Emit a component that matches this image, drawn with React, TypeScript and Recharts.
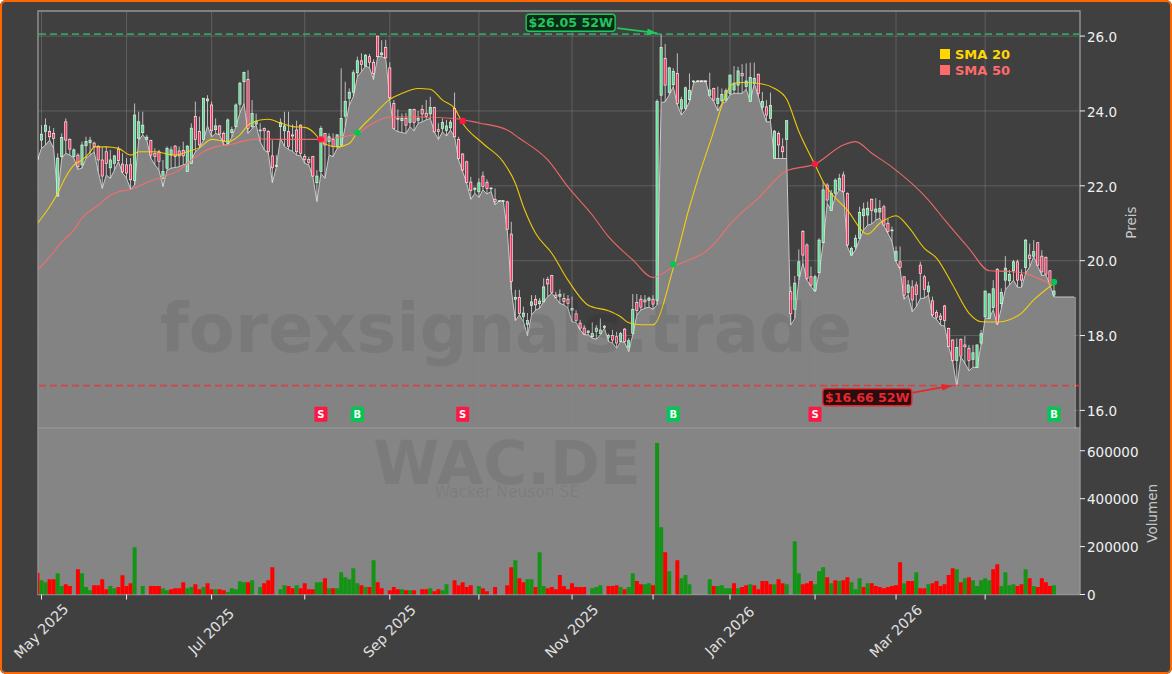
import { Area, Bar, CartesianGrid, Cell, ComposedChart, Legend, Line, ReferenceArea, ReferenceDot, ReferenceLine, XAxis, YAxis } from 'recharts';

const opens = [
  22.70, 23.22, 23.45, 23.45, 23.40, 21.73, 22.78, 23.71, 23.24, 22.78,
  22.82, 22.56, 23.07, 23.15, 23.14, 23.05, 22.69, 22.91, 22.48, 22.60,
  22.98, 22.58, 22.56, 22.56, 22.14, 23.27, 23.42, 23.24, 23.21, 22.87,
  22.91, 22.20, 22.47, 22.82, 23.06, 22.93, 22.94, 22.38, 22.60, 23.85,
  23.45, 23.24, 24.27, 24.16, 23.50, 23.60, 23.40, 23.13, 23.42, 23.58,
  24.18, 24.78, 24.84, 23.58, 23.65, 23.47, 23.53, 23.45, 22.80, 22.52,
  23.58, 23.47, 23.45, 23.36, 23.49, 23.62, 22.78, 22.70, 22.78, 22.08,
  22.38, 23.40, 23.18, 23.24, 23.05, 23.09, 23.86, 24.34, 24.50, 25.02,
  25.34, 25.20, 25.45, 25.30, 26.00, 25.50, 25.70, 25.15, 24.20, 23.80,
  23.74, 23.80, 23.69, 24.04, 23.75, 24.04, 23.94, 23.92, 24.09, 23.50,
  23.53, 23.48, 23.55, 24.07, 23.24, 22.85, 22.64, 22.10, 21.90, 21.84,
  22.26, 22.09, 21.92, 21.64, 21.60, 21.60, 21.57, 20.71, 18.97, 19.02,
  18.50, 18.30, 18.80, 18.96, 18.85, 18.90, 19.50, 19.60, 19.08, 19.05,
  18.99, 18.97, 18.68, 18.58, 18.33, 18.20, 18.08, 17.97, 18.11, 18.05,
  18.22, 17.95, 18.00, 17.97, 17.84, 18.17, 17.69, 18.06, 18.88, 18.97,
  18.95, 18.94, 18.97, 18.94, 24.42, 25.40, 24.49, 24.70, 25.00, 24.05,
  24.07, 24.30, 24.80, 24.80, 24.80, 24.80, 24.42, 24.60, 24.20, 24.27,
  24.29, 24.47, 24.56, 24.69, 25.00, 24.65, 24.25, 24.74, 24.98, 24.10,
  24.11, 23.80, 22.73, 23.40, 23.04, 23.24, 19.17, 18.70, 19.59, 20.78,
  20.42, 19.57, 19.20, 19.68, 20.48, 22.02, 21.34, 21.80, 21.90, 22.29,
  21.80, 20.15, 20.37, 20.60, 21.20, 21.22, 21.64, 21.30, 21.30, 21.44,
  21.00, 20.80, 20.00, 19.97, 19.57, 19.15, 19.30, 19.35, 19.88, 19.57,
  19.17, 18.93, 18.62, 18.52, 18.79, 18.19, 17.88, 17.33, 17.90, 17.75,
  17.66, 17.36, 17.15, 17.80, 18.50, 18.46, 18.75, 19.77, 18.85, 19.48,
  19.46, 19.73, 19.97, 19.62, 19.82, 20.15, 20.12, 20.48, 20.12, 20.09,
  19.73, 19.08,
];

const highs = [
  22.90, 23.62, 23.80, 23.60, 23.54, 22.87, 23.40, 23.80, 23.27, 23.00,
  22.87, 23.18, 23.31, 23.31, 23.18, 23.09, 23.03, 23.05, 22.96, 22.82,
  23.05, 22.87, 22.74, 22.74, 24.20, 23.98, 23.98, 23.36, 23.23, 23.00,
  22.96, 22.69, 23.05, 23.05, 23.09, 23.05, 23.18, 23.09, 23.67, 24.25,
  23.85, 24.34, 24.42, 24.25, 23.80, 23.62, 23.45, 23.80, 23.58, 24.20,
  24.78, 25.05, 25.09, 24.29, 23.93, 23.67, 23.56, 23.49, 23.22, 22.82,
  23.80, 23.98, 23.98, 23.64, 23.74, 23.64, 22.85, 22.78, 22.80, 22.42,
  23.60, 23.40, 23.40, 23.40, 23.38, 25.14, 24.78, 24.60, 25.09, 25.45,
  25.54, 25.52, 25.52, 25.38, 26.00, 25.89, 25.90, 25.30, 24.29, 24.04,
  23.93, 23.95, 24.06, 24.06, 24.00, 24.16, 24.29, 24.38, 24.11, 23.67,
  23.80, 23.76, 23.76, 24.49, 23.31, 22.87, 22.67, 22.24, 21.96, 22.20,
  22.38, 22.17, 21.96, 21.93, 21.62, 21.62, 21.60, 21.04, 19.22, 19.22,
  18.77, 18.60, 19.08, 19.08, 19.00, 19.53, 19.57, 19.62, 19.17, 19.23,
  19.13, 19.08, 19.04, 18.68, 18.42, 18.28, 18.15, 18.35, 18.28, 18.46,
  18.28, 18.05, 18.15, 18.10, 18.10, 18.20, 17.93, 19.11, 19.11, 19.08,
  19.08, 19.04, 19.08, 24.31, 26.05, 25.79, 25.18, 25.14, 25.54, 24.38,
  24.65, 25.00, 24.82, 24.82, 24.82, 24.82, 25.02, 24.62, 24.65, 24.60,
  24.60, 24.96, 25.20, 25.18, 25.25, 25.27, 25.29, 25.29, 25.00, 24.51,
  24.29, 24.49, 23.49, 23.45, 23.27, 23.76, 19.31, 19.59, 20.30, 20.82,
  20.46, 19.84, 19.62, 20.60, 22.11, 22.07, 21.89, 22.20, 22.32, 22.38,
  21.82, 20.37, 20.69, 21.44, 21.55, 21.58, 21.66, 21.67, 21.62, 21.49,
  21.13, 20.91, 20.38, 20.38, 19.59, 19.48, 19.48, 19.44, 19.97, 19.62,
  19.44, 19.04, 18.68, 18.60, 18.82, 18.21, 17.90, 17.92, 17.92, 17.99,
  17.75, 17.75, 17.75, 18.15, 19.19, 19.14, 19.48, 19.80, 19.26, 20.12,
  19.75, 20.02, 20.03, 19.77, 20.57, 20.46, 20.55, 20.50, 20.28, 20.11,
  19.75, 19.35,
];

// the shaded area follows these
const lows = [
  22.70, 23.00, 23.09, 23.22, 23.00, 21.71, 22.74, 22.87, 22.82, 22.74,
  22.44, 22.47, 22.74, 22.82, 22.91, 22.38, 21.93, 22.29, 22.20, 22.42,
  22.65, 22.34, 22.20, 21.91, 22.02, 23.22, 23.36, 23.22, 22.74, 22.56,
  22.42, 21.98, 22.42, 22.47, 22.49, 22.51, 22.56, 22.60, 22.69, 22.91,
  23.00, 23.22, 23.60, 23.31, 23.40, 23.36, 23.09, 23.10, 23.30, 23.58,
  23.95, 24.20, 23.40, 23.53, 23.62, 23.18, 22.96, 22.88, 22.08, 22.50,
  23.27, 23.05, 22.97, 22.92, 22.82, 22.80, 22.60, 22.56, 22.24, 21.58,
  22.33, 22.20, 22.82, 22.78, 23.00, 23.05, 23.58, 24.16, 24.38, 24.91,
  25.05, 25.20, 25.15, 24.84, 25.45, 25.45, 25.40, 24.30, 23.51, 23.45,
  23.42, 23.40, 23.58, 23.47, 23.67, 23.71, 23.76, 23.80, 23.44, 23.24,
  23.44, 23.33, 23.49, 23.31, 22.69, 22.38, 22.06, 21.64, 21.80, 21.69,
  21.89, 21.78, 21.85, 21.49, 21.60, 21.60, 20.82, 19.22, 18.40, 18.55,
  18.37, 17.99, 18.55, 18.68, 18.73, 18.90, 19.04, 19.13, 19.00, 18.86,
  18.82, 18.73, 18.37, 18.35, 18.15, 18.02, 18.02, 17.93, 17.90, 18.02,
  18.20, 17.84, 17.80, 17.66, 17.84, 17.81, 17.57, 18.02, 18.55, 18.68,
  18.73, 18.76, 18.70, 18.82, 24.22, 24.25, 24.43, 24.65, 24.16, 23.89,
  24.02, 24.25, 24.74, 24.80, 24.80, 24.80, 24.38, 24.25, 24.00, 24.20,
  24.25, 24.43, 24.47, 24.47, 24.47, 24.58, 24.25, 24.74, 24.38, 24.02,
  23.71, 23.71, 22.73, 22.73, 22.73, 22.73, 18.28, 18.46, 19.48, 19.93,
  19.48, 19.31, 19.17, 19.66, 20.46, 21.53, 21.34, 21.71, 21.89, 21.84,
  20.37, 20.13, 20.29, 20.57, 20.82, 20.95, 20.98, 21.09, 21.13, 20.93,
  20.73, 20.51, 19.97, 19.77, 18.97, 19.08, 18.64, 18.77, 18.99, 19.00,
  19.08, 18.50, 18.43, 18.28, 18.25, 17.70, 17.30, 16.63, 17.43, 17.26,
  17.06, 17.15, 17.15, 17.75, 18.46, 18.46, 18.68, 18.28, 18.73, 19.23,
  19.35, 19.48, 19.29, 19.29, 19.66, 19.84, 20.11, 19.85, 19.60, 19.62,
  19.35, 19.03,
];

const closes = [
  22.80, 23.38, 23.62, 23.31, 23.27, 22.74, 23.29, 23.22, 22.98, 22.96,
  22.51, 23.09, 23.18, 23.22, 23.05, 22.69, 22.26, 22.60, 22.69, 22.80,
  22.67, 22.37, 22.34, 22.16, 23.89, 23.71, 23.62, 23.30, 22.82, 22.78,
  22.65, 22.38, 23.00, 22.96, 22.78, 22.80, 22.80, 23.06, 23.54, 23.24,
  23.09, 24.34, 24.32, 23.47, 23.60, 23.38, 23.20, 23.76, 23.50, 24.16,
  24.74, 25.03, 23.53, 23.93, 23.72, 23.49, 23.47, 22.91, 22.48, 22.55,
  23.69, 23.60, 23.05, 23.33, 22.91, 22.87, 22.70, 22.62, 22.26, 22.26,
  23.53, 23.09, 23.31, 23.05, 23.36, 23.80, 24.25, 24.50, 25.02, 25.34,
  25.24, 25.49, 25.30, 25.00, 25.45, 25.55, 25.42, 24.35, 23.53, 23.78,
  23.80, 23.62, 24.04, 23.69, 23.80, 23.92, 23.85, 24.09, 23.44, 23.45,
  23.69, 23.60, 23.70, 23.31, 22.73, 22.42, 22.09, 21.87, 21.94, 22.08,
  21.98, 21.93, 21.94, 21.57, 21.60, 21.60, 20.84, 19.44, 19.02, 18.59,
  18.60, 18.40, 18.90, 18.82, 18.92, 19.30, 19.38, 19.15, 19.02, 19.10,
  18.91, 18.86, 18.72, 18.40, 18.20, 18.04, 18.12, 18.06, 18.20, 18.15,
  18.25, 18.00, 17.88, 17.80, 18.05, 17.84, 17.86, 18.70, 18.67, 18.76,
  18.90, 19.00, 18.84, 24.25, 25.70, 24.69, 25.15, 25.05, 24.20, 24.30,
  24.62, 24.55, 24.80, 24.80, 24.80, 24.80, 24.56, 24.29, 24.34, 24.44,
  24.54, 24.96, 24.74, 25.07, 24.94, 24.80, 24.89, 24.87, 24.47, 24.25,
  23.89, 24.15, 23.46, 23.09, 22.91, 23.74, 18.58, 19.40, 19.97, 20.15,
  19.53, 19.35, 19.57, 20.55, 21.89, 21.62, 21.80, 22.15, 22.20, 21.84,
  20.42, 20.33, 20.60, 21.29, 21.38, 21.40, 21.34, 21.38, 21.40, 20.95,
  20.78, 20.82, 20.25, 19.82, 19.08, 19.35, 18.95, 19.10, 19.66, 19.23,
  19.32, 18.55, 18.49, 18.43, 18.40, 17.70, 17.33, 17.68, 17.45, 17.70,
  17.33, 17.54, 17.75, 18.05, 19.19, 19.11, 19.25, 18.33, 19.15, 19.80,
  19.63, 19.97, 19.48, 19.48, 20.55, 20.06, 20.24, 19.88, 19.70, 19.64,
  19.39, 19.19,
];

// flat run after the last session
const areaTail = [19.03, 19.03, 19.03, 19.03, 19.03];

const volumes = [
  90000, 60000, 51000, 64000, 64000, 89000, 35000, 43000, 35000, 0,
  105000, 89000, 31000, 18000, 39000, 39000, 64000, 22000, 35000, 26000,
  31000, 80000, 35000, 47000, 197000, 0, 35000, 0, 35000, 35000,
  35000, 26000, 18000, 22000, 26000, 26000, 51000, 26000, 31000, 43000,
  22000, 31000, 47000, 22000, 22000, 22000, 18000, 10000, 26000, 22000,
  55000, 51000, 51000, 60000, 0, 31000, 47000, 60000, 114000, 0,
  22000, 39000, 35000, 26000, 39000, 26000, 47000, 22000, 22000, 51000,
  51000, 68000, 26000, 26000, 26000, 93000, 72000, 64000, 110000, 47000,
  39000, 31000, 31000, 143000, 51000, 26000, 0, 18000, 31000, 22000,
  22000, 18000, 18000, 18000, 0, 22000, 22000, 26000, 14000, 22000,
  18000, 43000, 0, 60000, 39000, 51000, 31000, 39000, 0, 35000,
  26000, 14000, 0, 31000, 0, 0, 39000, 114000, 143000, 68000,
  51000, 64000, 64000, 31000, 176000, 35000, 26000, 31000, 22000, 81000,
  35000, 22000, 47000, 31000, 31000, 31000, 0, 26000, 31000, 39000,
  0, 35000, 35000, 39000, 31000, 22000, 31000, 89000, 56000, 43000,
  43000, 47000, 39000, 632000, 281000, 176000, 97000, 0, 143000, 68000,
  81000, 43000, 0, 0, 0, 0, 64000, 35000, 35000, 39000,
  26000, 26000, 47000, 26000, 31000, 39000, 43000, 39000, 22000, 56000,
  56000, 43000, 43000, 64000, 47000, 43000, 0, 222000, 89000, 43000,
  47000, 56000, 43000, 97000, 114000, 72000, 47000, 60000, 56000, 60000,
  72000, 51000, 22000, 68000, 31000, 47000, 47000, 35000, 31000, 26000,
  31000, 35000, 39000, 135000, 47000, 56000, 56000, 93000, 26000, 26000,
  43000, 47000, 56000, 35000, 43000, 81000, 110000, 105000, 51000, 68000,
  72000, 60000, 35000, 60000, 68000, 60000, 105000, 126000, 35000, 93000,
  39000, 43000, 35000, 43000, 105000, 68000, 35000, 31000, 68000, 51000,
  35000, 39000,
];

const volumeSides = [
  'RGGRRGGRRR', 'RGGGRRRRGG', 'RRRRGGGGRR', 'RGGRRRRGGR', 'RGRRGRRGGG', 'GGRGGGRRRR',
  'GGRRGRRRRG', 'GRGRGGGGGG', 'RGRGRRRRRR', 'GRGRRRRGRR', 'GGGRRRRRRG', 'RRRRRRRRGR',
  'RGGRGGRRRR', 'RRRRRRGGGG', 'RRRRGRGGRR', 'GGRGGRGGRG', 'GGGGGGGRGG', 'GGRGRRGRRR',
  'RRGRRGGGGR', 'RRGGGRGRGR', 'RGGGRGRRRR', 'RRRRGRRGRR', 'GRRRRRRGRG', 'RGGGGGRRGG',
  'GGRRGRGRRR', 'RG',
].join('');

// at the places the curves bend: [session, value]
const sma20Points = [
  [0, 21.0], [3, 21.44], [5, 21.8], [7, 22.24], [9, 22.55], [11, 22.69], [13, 22.9], [14, 23.04], [17, 23.04], [20, 23.0],
  [23, 22.82], [25, 22.91], [29, 22.91], [34, 22.82], [37, 22.91], [40, 23.02], [43, 23.24], [47, 23.18], [50, 23.36], [52, 23.62],
  [55, 23.76], [57, 23.78], [60, 23.68], [63, 23.58], [66, 23.56], [69, 23.33], [70, 23.18], [74, 23.04], [77, 23.13], [79, 23.44],
  [83, 23.89], [87, 24.31], [90, 24.47], [94, 24.6], [97, 24.58], [100, 24.29], [103, 24.07], [105, 23.67], [110, 23.13], [115, 22.64],
  [118, 22.07], [120, 21.44], [123, 20.73], [127, 20.2], [131, 19.48], [136, 18.81], [141, 18.66], [144, 18.5], [146, 18.34], [149, 18.29],
  [152, 18.29], [157, 19.8], [161, 21.44], [166, 23.14], [172, 24.74], [174, 24.76], [179, 24.72], [182, 24.6], [185, 24.31], [188, 23.45],
  [192, 22.56], [194, 22.11], [200, 21.35], [205, 20.71], [208, 21.0], [212, 21.2], [215, 20.91], [219, 20.33], [222, 20.07], [226, 19.35],
  [230, 18.6], [233, 18.37], [237, 18.36], [240, 18.42], [243, 18.6], [246, 18.95], [251, 19.39],
];

const sma50Points = [
  [0, 19.75], [3, 20.1], [6, 20.5], [9, 20.82], [11, 21.14], [15, 21.48], [18, 21.75], [20, 21.84], [23, 21.9], [27, 22.09],
  [31, 22.24], [35, 22.42], [38, 22.69], [41, 22.91], [44, 23.04], [48, 23.11], [51, 23.2], [55, 23.25], [62, 23.24], [71, 23.24],
  [74, 23.29], [79, 23.4], [82, 23.62], [87, 23.84], [94, 23.84], [103, 23.8], [109, 23.68], [116, 23.49], [119, 23.27], [126, 22.69],
  [131, 21.97], [137, 21.22], [141, 20.64], [147, 20.02], [152, 19.55], [157, 19.84], [166, 20.33], [172, 21.09], [178, 21.67], [185, 22.4],
  [192, 22.58], [199, 23.09], [202, 23.18], [206, 22.87], [211, 22.5], [220, 21.62], [224, 21.09], [230, 20.33], [235, 19.73], [240, 19.71],
  [244, 19.66], [247, 19.53], [251, 19.35],
];

const priceTicks = [16, 18, 20, 22, 24, 26];
const volumeTicks = [0, 200000, 400000, 600000];
const monthIdx = [1, 22, 43, 66, 87, 109, 132, 152, 171, 192, 212, 234];
const monthLabels = ['May 2025', '', 'Jul 2025', '', 'Sep 2025', '', 'Nov 2025', '', 'Jan 2026', '', 'Mar 2026', ''];

const signalIdx = [70, 79, 105, 157, 192, 251];
const signalKind = ['S', 'B', 'S', 'B', 'S', 'B'];
const signalPrice = [23.24, 23.42, 23.73, 19.9, 22.58, 19.43];

const HIGH_52W = 26.05;
const HIGH_52W_IDX = 154;
const LOW_52W = 16.66;
const LOW_52W_IDX = 227;

const UP = '#00c853';
const DOWN = '#ff1744';
const X_DOMAIN = [0.136, 257.42];
const PRICE_DOMAIN = [15.53, 26.67];
const VOLUME_DOMAIN = [0, 695000];
const FONT = '"DejaVu Sans", sans-serif';

function lookup(points: number[][], i: number) {
  const hit = points.find((p) => p[0] === i);
  return hit ? hit[1] : null;
}

const allAreaValues = lows.concat(areaTail);
const priceData = allAreaValues.map((shade, i) => ({
  i,
  shade,
  range: i < opens.length ? [Math.min(lows[i], opens[i], closes[i]), Math.max(highs[i], opens[i], closes[i])] : null,
  open: opens[i],
  close: closes[i],
  sma20: lookup(sma20Points, i),
  sma50: lookup(sma50Points, i),
}));

const volumeData = volumes.map((volume, i) => ({ i, volume }));

function Candle(props: any) {
  const { x, y, width, height, payload } = props;
  if (!payload || !payload.range) return null;
  const [lo, hi] = payload.range;
  const perUnit = hi > lo ? height / (hi - lo) : 0;
  const top = y + (hi - Math.max(payload.open, payload.close)) * perUnit;
  const bottom = y + (hi - Math.min(payload.open, payload.close)) * perUnit;
  const mid = x + width / 2;
  const up = payload.close >= payload.open;
  return (
    <g>
      <line x1={mid} x2={mid} y1={y} y2={y + height} stroke="#dedede" strokeWidth={0.8} />
      <rect x={mid - 1.1} y={top} width={2.2} height={Math.max(bottom - top, 0.8)} fill={up ? '#4fe08a' : '#ff2d5a'} stroke="#eeeeee" strokeWidth={0.7} />
    </g>
  );
}

function SignalTag(props: any) {
  const { cx, cy, kind } = props;
  return (
    <g>
      <rect x={cx - 6.5} y={cy - 7.5} width={13} height={15} rx={1} fill={kind === 'S' ? DOWN : UP} />
      <text x={cx} y={cy + 3.6} textAnchor="middle" fontSize={10} fontWeight="bold" fontFamily={FONT} fill="#fff">{kind}</text>
    </g>
  );
}

function ExtremeNote(props: any) {
  const { cx, cy, text, color, boxFill, boxX, boxY, tailX, tailY, tipX, tipY } = props;
  const ang = Math.atan2(tipY - tailY, tipX - tailX);
  const ax = cx + tipX;
  const ay = cy + tipY;
  const head = [
    [ax, ay],
    [ax - 10 * Math.cos(ang) + 3.4 * Math.sin(ang), ay - 10 * Math.sin(ang) - 3.4 * Math.cos(ang)],
    [ax - 10 * Math.cos(ang) - 3.4 * Math.sin(ang), ay - 10 * Math.sin(ang) + 3.4 * Math.cos(ang)],
  ].map((p) => p.join(',')).join(' ');
  return (
    <g>
      <line x1={cx + tailX} y1={cy + tailY} x2={ax} y2={ay} stroke={color} strokeWidth={1.8} />
      <polygon points={head} fill={color} />
      <rect x={cx + boxX} y={cy + boxY} width={89} height={17} rx={3} fill={boxFill} stroke={color} strokeWidth={1.4} />
      <text x={cx + boxX + 44.5} y={cy + boxY + 13} textAnchor="middle" fontSize={12.6} fontWeight="bold" fontFamily={FONT} fill={color}>{text}</text>
    </g>
  );
}

function MonthTick(props: any) {
  const { x, y, payload } = props;
  const label = monthLabels[monthIdx.indexOf(payload.value)];
  if (!label) return null;
  const cy = y + 30;
  return (
    <text x={x} y={cy} dy={4.5} textAnchor="middle" fontSize={14.2} fontFamily={FONT} fill="#e0e0e0" transform={`rotate(-45 ${x} ${cy})`}>{label}</text>
  );
}

function SmaLegend({ payload }: any) {
  const rows = (payload || []).filter((item: any) => String(item.value).startsWith('SMA'));
  return (
    <div style={{ fontFamily: FONT, fontSize: 13, fontWeight: 'bold', lineHeight: '16px' }}>
      {rows.map((item: any) => (
        <div key={item.value} style={{ color: item.color, whiteSpace: 'nowrap' }}>
          <span style={{ display: 'inline-block', width: 10, height: 10, marginRight: 5, background: item.color }} />
          {item.value}
        </div>
      ))}
    </div>
  );
}

export default function App() {
  return (
    <div style={{ position: 'absolute', left: 0, top: 0, width: 1172, height: 674, background: '#404040', overflow: 'hidden', borderRadius: 6 }}>
      <div style={{ position: 'absolute', left: 0, top: 0 }}>
        <ComposedChart width={1172} height={429} data={priceData} margin={{ top: 11, right: 0, bottom: 1, left: 38 }}>
          <CartesianGrid stroke="#ffffff" strokeOpacity={0.16} verticalValues={monthIdx} horizontalValues={priceTicks} />
          <XAxis dataKey="i" type="number" domain={X_DOMAIN} allowDataOverflow hide ticks={monthIdx} />
          <YAxis
            orientation="right"
            width={92}
            domain={PRICE_DOMAIN}
            allowDataOverflow
            ticks={priceTicks}
            tickFormatter={(v: number) => v.toFixed(1)}
            axisLine={false}
            tick={{ fill: '#f0f0f0', fontSize: 13.5, fontFamily: FONT, dy: 1 }}
            tickLine={{ stroke: '#f0f0f0' }}
            tickSize={5}
            label={{ value: 'Preis', angle: -90, position: 'center', dx: 5, dy: 3, fill: '#c8c8c8', fontSize: 13.5, fontFamily: FONT }}
          />
          <Area dataKey="shade" type="linear" fill="#878787" fillOpacity={0.95} stroke="#c8c8c8" strokeWidth={1} isAnimationActive={false} legendType="none" dot={false} activeDot={false} />
          <Bar dataKey="range" barSize={4} shape={<Candle />} isAnimationActive={false} legendType="none" />
          <Line dataKey="sma20" name="SMA 20" type="monotone" connectNulls stroke="#ffd700" strokeOpacity={0.9} strokeWidth={1.1} dot={false} isAnimationActive={false} />
          <Line dataKey="sma50" name="SMA 50" type="monotone" connectNulls stroke="#ff6b6b" strokeOpacity={0.9} strokeWidth={1.1} dot={false} isAnimationActive={false} />
          <ReferenceLine y={HIGH_52W} stroke="#2fb36a" strokeOpacity={0.85} strokeWidth={1.7} strokeDasharray="7 4" />
          <ReferenceLine y={LOW_52W} stroke="#e03b3b" strokeOpacity={0.85} strokeWidth={1.7} strokeDasharray="7 4" />
          <ReferenceLine segment={[{ x: 256.2, y: 19.03 }, { x: 256.2, y: 15.53 }]} stroke="#c8c8c8" strokeWidth={1} />
          {signalIdx.map((idx, n) => (
            <ReferenceDot key={`dot${idx}`} x={idx} y={signalPrice[n]} r={3.2} fill={signalKind[n] === 'S' ? DOWN : UP} stroke="none" />
          ))}
          {signalIdx.map((idx, n) => (
            <ReferenceDot key={`tag${idx}`} x={idx} y={15.9} shape={<SignalTag kind={signalKind[n]} />} />
          ))}
          <ReferenceDot
            x={HIGH_52W_IDX}
            y={HIGH_52W}
            shape={<ExtremeNote text="$26.05 52W" color="#22c55e" boxFill="#0b2a17" boxX={-135} boxY={-20} tailX={-44} tailY={-6} tipX={-4} tipY={-1} />}
          />
          <ReferenceDot
            x={LOW_52W_IDX}
            y={LOW_52W}
            shape={<ExtremeNote text="$16.66 52W" color="#e8262c" boxFill="#2a0d0f" boxX={-134} boxY={3} tailX={-44} tailY={7} tipX={-5} tipY={0} />}
          />
          <ReferenceArea x1={X_DOMAIN[0]} x2={X_DOMAIN[1]} y1={PRICE_DOMAIN[0]} y2={PRICE_DOMAIN[1]} fill="none" stroke="#949494" strokeWidth={1.4} ifOverflow="visible" />
          <Legend
            layout="horizontal"
            align="center"
            verticalAlign="middle"
            content={<SmaLegend />}
            wrapperStyle={{ position: 'absolute', left: 940, top: 47, width: 90, height: 34 }}
          />
        </ComposedChart>
      </div>
      <div style={{ position: 'absolute', left: 0, top: 428 }}>
        <ComposedChart width={1172} height={246} data={volumeData} margin={{ top: 0, right: 0, bottom: 0, left: 38 }}>
          <CartesianGrid horizontal={false} vertical={false} fill="#858585" fillOpacity={1} />
          <XAxis
            dataKey="i"
            type="number"
            domain={X_DOMAIN}
            allowDataOverflow
            ticks={monthIdx}
            interval={0}
            height={79.5}
            axisLine={false}
            tick={<MonthTick />}
            tickLine={{ stroke: '#f0f0f0' }}
            tickSize={5}
          />
          <YAxis
            orientation="right"
            width={92}
            domain={VOLUME_DOMAIN}
            allowDataOverflow
            ticks={volumeTicks}
            axisLine={false}
            tick={{ fill: '#f0f0f0', fontSize: 13.5, fontFamily: FONT, dy: 1 }}
            tickLine={{ stroke: '#f0f0f0' }}
            tickSize={5}
            label={{ value: 'Volumen', angle: -90, position: 'center', dx: 26, dy: 2, fill: '#c8c8c8', fontSize: 13.5, fontFamily: FONT }}
          />
          <Bar dataKey="volume" barSize={4} isAnimationActive={false}>
            {volumeData.map((d) => (
              <Cell key={d.i} fill={volumeSides[d.i] === 'G' ? '#149414' : '#ff0000'} />
            ))}
          </Bar>
          <ReferenceArea x1={X_DOMAIN[0]} x2={X_DOMAIN[1]} y1={VOLUME_DOMAIN[0]} y2={VOLUME_DOMAIN[1]} fill="none" stroke="#949494" strokeWidth={1.4} ifOverflow="visible" />
        </ComposedChart>
      </div>
      <svg width={1172} height={674} style={{ position: 'absolute', left: 0, top: 0, pointerEvents: 'none' }}>
        <g fontFamily={FONT} textAnchor="middle" fill="#000000" fillOpacity={0.07}>
          <text x={506} y={352} fontSize={67} fontWeight="bold">forexsignals.trade</text>
          <text x={507} y={484} fontSize={60} fontWeight="bold">WAC.DE</text>
          <text x={507} y={497} fontSize={15.5}>Wacker Neuson SE</text>
        </g>
      </svg>
      <div style={{ position: 'absolute', inset: 0, border: '2.5px solid #ff6600', borderRadius: 6, pointerEvents: 'none' }} />
    </div>
  );
}
